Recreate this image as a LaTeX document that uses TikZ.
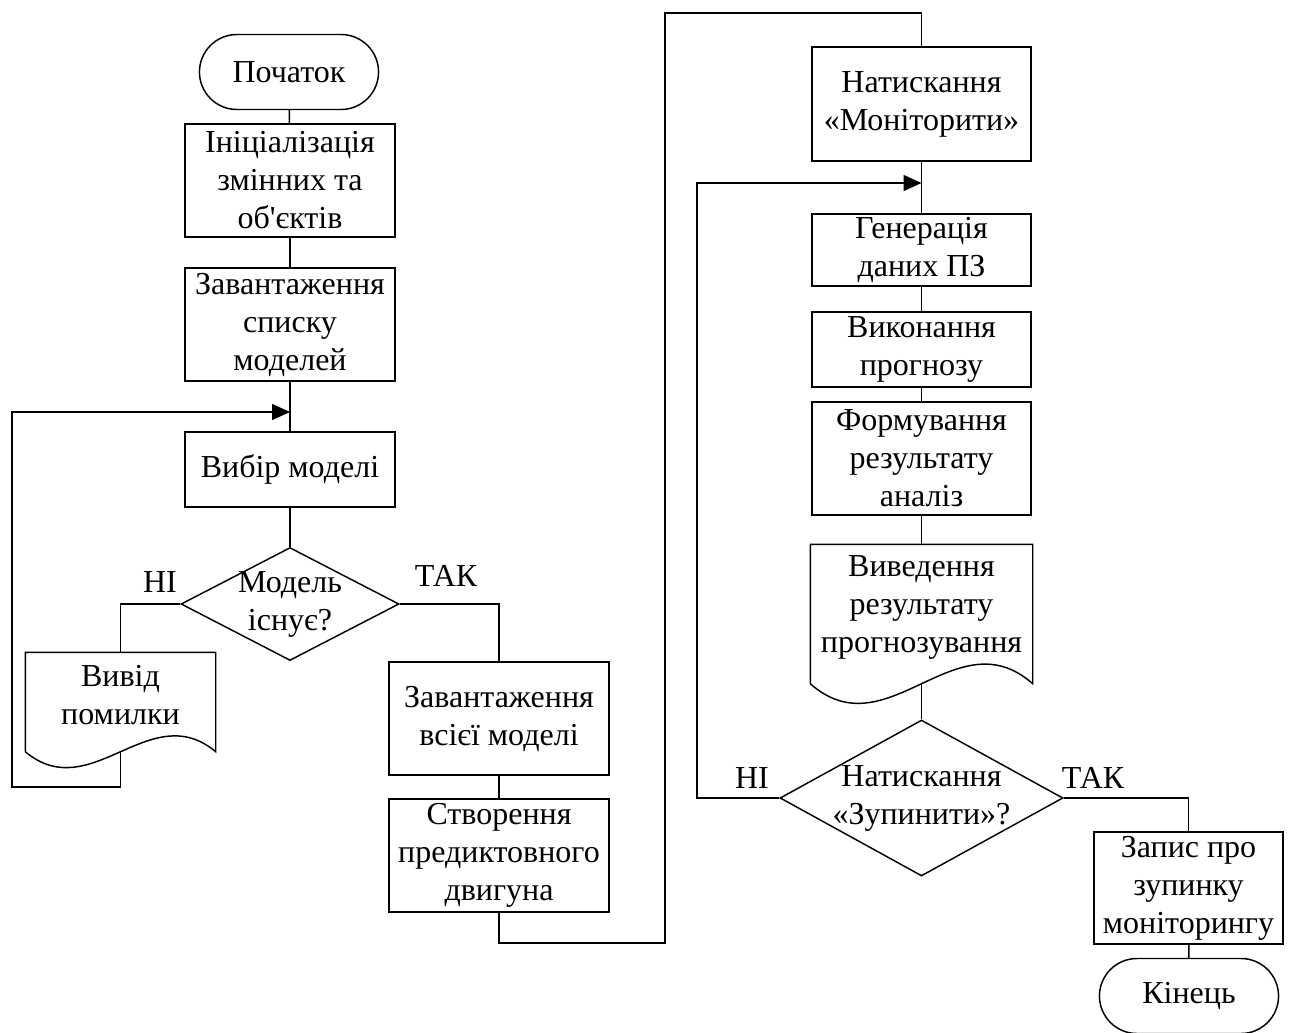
\documentclass[tikz,border=0pt]{standalone}
\usepackage{fontspec}
\setmainfont{Liberation Serif}
\newfontfamily\plainserif{Liberation Serif}
\usetikzlibrary{shapes.geometric,shapes.misc,arrows.meta}

% document block: sides run 10.5pt below the node, wavy bottom
\newcommand{\docwave}[3]{%
  \draw ([yshift=-10.5pt]#1.south west) -- (#1.north west) -- (#1.north east)
     -- ([yshift=-10.5pt]#1.south east)
     .. controls +(-#2,-#3) and +(#2,#3) .. ([yshift=-10.5pt]#1.south west);
  \coordinate (#1end) at ([yshift=-10.5pt]#1.south);}

\begin{document}
\begin{tikzpicture}[x=0.75pt,y=-0.75pt,line width=1.1pt,
    font=\fontsize{24}{28.5}\selectfont,
    box/.style={draw,rectangle,align=center,inner sep=0pt,
      minimum width=210*0.75pt,minimum height=113*0.75pt},
    term/.style={draw,rounded rectangle,align=center,
      minimum width=188*0.75pt,minimum height=75*0.75pt},
    decide/.style={draw,diamond,inner sep=0pt},
    docbox/.style={rectangle,align=center,inner sep=0pt},
    arr/.style={-{Triangle[length=13.5pt,width=12pt]}}]
  \useasboundingbox (0,0) rectangle (1289,1032);

  % left column
  \node[term] (start) at (289,72) {Початок};
  \node[box] (init) at (290,180.5) {Ініціалізація\\змінних та\\об{\plainserif'}єктів};
  \node[box] (loadlist) at (290,324.5) {Завантаження\\списку\\моделей};
  \node[box,minimum height=75*0.75pt] (choose) at (290,469.5) {Вибір моделі};
  \node[decide,minimum width=218*0.75pt,minimum height=113*0.75pt] (exists) at (290,604) {};
  \node[align=center] (existstext) at (290,604) {Модель\\існує?};
  \node[docbox,minimum width=189*0.75pt,minimum height=84*0.75pt] (errout) at (120.5,695) {Вивід\\помилки};
  \docwave{errout}{66}{55}
  \node[box,minimum width=220*0.75pt] (loadall) at (499,718.5) {Завантаження\\всієї моделі};
  \node[box,minimum width=220*0.75pt] (engine) at (499,855.5) {Створення\\предиктовного\\двигуна};

  % right column
  \node[box,minimum width=219*0.75pt,minimum height=114*0.75pt] (monitor) at (921.5,104) {Натискання\\«Моніторити»};
  \node[box,minimum width=219*0.75pt,minimum height=72*0.75pt] (gen) at (921.5,250) {Генерація\\даних ПЗ};
  \node[box,minimum width=219*0.75pt,minimum height=75*0.75pt] (predict) at (921.5,349.5) {Виконання\\прогнозу};
  \node[box,minimum width=219*0.75pt] (form) at (921.5,458.5) {Формування\\результату\\аналіз};
  \node[docbox,minimum width=221*0.75pt,minimum height=124*0.75pt] (output) at (921.5,607) {Виведення\\результату\\прогнозування};
  \docwave{output}{77}{68}
  \node[decide,minimum width=283*0.75pt,minimum height=156*0.75pt] (stop) at (921.5,798) {};
  \node[align=center] (stoptext) at (921.5,798) {Натискання\\«Зупинити»?};
  \node[box,minimum width=189*0.75pt,minimum height=112*0.75pt] (record) at (1188.5,888) {Запис про\\зупинку\\моніторингу};
  \node[term] (finish) at (1189,996) {Кінець};

  % branch labels
  \node (no1) at (160,582) {НІ};
  \node (yes1) at (446,576) {ТАК};
  \node (no2) at (752,778) {НІ};
  \node (yes2) at (1093,778) {ТАК};

  \coordinate (backL) at (12,787);
  \coordinate (joinL) at (290,412);
  \coordinate (turn1) at (665,943);
  \coordinate (turn2) at (921.5,13);
  \coordinate (backR) at (697,183);
  \coordinate (joinR) at (921.5,183);

  \draw (start) -- (init);
  \draw (init) -- (loadlist);
  \draw (loadlist) -- (choose);
  \draw (choose) -- (exists);
  \draw (exists.west) -| (errout.north);
  \draw (exists.east) -| (loadall.north);
  \draw[arr] (erroutend) |- (backL) |- (joinL);
  \draw (loadall) -- (engine);
  \draw (engine.south) |- (turn1) |- (turn2) -- (monitor.north);
  \draw (monitor) -- (gen);
  \draw (gen) -- (predict);
  \draw (predict) -- (form);
  \draw (form) -- (output.north);
  \draw (outputend) -- (stop.north);
  \draw[arr] (stop.west) -| (backR) -- (joinR);
  \draw (stop.east) -| (record.north);
  \draw (record) -- (finish);
\end{tikzpicture}
\end{document}
